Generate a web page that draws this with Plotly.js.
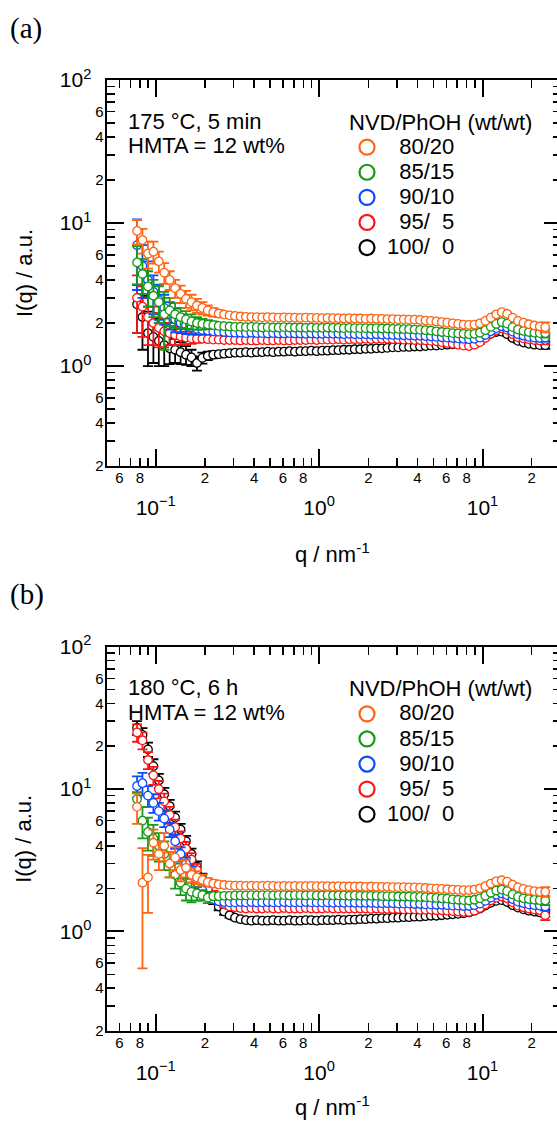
<!DOCTYPE html>
<html><head><meta charset="utf-8">
<script src="https://cdn.plot.ly/plotly-3.0.1.min.js"></script>
<style>html,body{margin:0;padding:0;overflow:hidden;background:#fff;width:557px;height:1124px}#chart{width:565px;height:1124px}</style>
</head><body><div id="chart"></div><script>
// ---- data (q in nm^-1, I(q) in a.u.) ----
const q = [0.0769,0.0830,0.0897,0.0968,0.1045,0.1128,0.1218,0.1315,0.1420,0.1533,
0.1656,0.1788,0.1930,0.2084,0.2250,0.2429,0.2623,0.2832,0.3058,0.3301,
0.3565,0.3849,0.4155,0.4487,0.4844,0.5230,0.5647,0.6097,0.6583,0.7107,
0.7674,0.8285,0.8945,0.9658,1.043,1.126,1.216,1.313,1.417,1.530,
1.652,1.784,1.926,2.079,2.245,2.424,2.617,2.826,3.051,3.294,
3.556,3.840,4.146,4.476,4.833,5.218,5.634,6.083,6.568,7.091,
7.656,8.266,8.925,9.636,10.40,11.23,12.13,13.10,14.14,15.27,
16.48,17.80,19.21,20.75,22.40,24.19];

const seriesNames = ['\u00a0\u00a080/20','\u00a0\u00a085/15','\u00a0\u00a090/10','\u00a0\u00a095/\u00a0\u00a05','100/\u00a0\u00a00'];
const seriesColors = ['#ff6414','#149a14','#0a4bff','#ff1414','#000000'];

// panel (a): 175 °C, 5 min
const a80 = [8.8,7.6,6.1,6.3,5.4,4.5,4.0,3.5,3.2,2.95,
2.8,2.65,2.55,2.45,2.38,2.33,2.29,2.26,2.24,2.22,
2.21,2.2,2.2,2.19,2.2,2.19,2.18,2.19,2.18,2.18,
2.17,2.18,2.17,2.17,2.16,2.17,2.16,2.16,2.15,2.16,
2.15,2.15,2.14,2.15,2.14,2.14,2.13,2.13,2.12,2.12,
2.11,2.11,2.1,2.08,2.07,2.05,2.03,2.01,1.99,1.97,
1.95,1.94,1.95,1.99,2.07,2.18,2.3,2.38,2.32,2.18,
2.07,2.01,1.96,1.92,1.89,1.87];
const a80e = [1.7,1.5,1.3,1.1,0.9,0.75,0.6,0.5,0.45,0.4,
0.35,0.3,0.25,0.2,0.16,0.13,0.1,0.08,0.07,0.06,
0.05,0.05,0.05,0.05,0.05,0.05,0.05,0.05,0.05,0.05,
0.04,0.04,0.04,0.04,0.04,0.04,0.04,0.04,0.04,0.04,
0.04,0.04,0.04,0.04,0.04,0.04,0.04,0.04,0.04,0.04,
0.04,0.04,0.04,0.04,0.04,0.04,0.04,0.04,0.04,0.04,
0.04,0.04,0.04,0.04,0.04,0.04,0.04,0.04,0.04,0.04,
0.04,0.04,0.05,0.06,0.1,0.15];
const a85 = [5.3,4.4,3.6,3.1,2.8,2.3,2.45,2.3,2.2,2.12,
2.05,2.0,1.97,1.95,1.93,1.91,1.9,1.89,1.88,1.88,
1.87,1.88,1.87,1.86,1.87,1.86,1.86,1.87,1.86,1.86,
1.86,1.85,1.86,1.85,1.85,1.86,1.85,1.85,1.84,1.85,
1.84,1.84,1.84,1.83,1.84,1.83,1.83,1.82,1.82,1.81,
1.81,1.8,1.79,1.78,1.77,1.75,1.73,1.72,1.7,1.69,
1.68,1.67,1.68,1.71,1.78,1.88,1.97,2.03,1.98,1.87,
1.8,1.76,1.73,1.71,1.7,1.7];
const a85e = [1.6,1.2,1.0,0.9,0.8,1.0,0.55,0.45,0.35,0.3,
0.25,0.2,0.17,0.14,0.12,0.1,0.08,0.07,0.06,0.05,
0.04,0.04,0.04,0.04,0.04,0.04,0.04,0.04,0.04,0.04,
0.04,0.04,0.04,0.04,0.04,0.04,0.04,0.04,0.04,0.04,
0.04,0.04,0.04,0.04,0.04,0.04,0.04,0.04,0.04,0.04,
0.04,0.04,0.04,0.04,0.04,0.04,0.04,0.04,0.04,0.04,
0.04,0.04,0.04,0.04,0.04,0.04,0.04,0.04,0.04,0.04,
0.04,0.04,0.04,0.05,0.08,0.12];
const a90 = [7.0,5.0,4.0,3.3,2.9,2.55,2.3,2.12,2.0,1.92,
1.86,1.82,1.79,1.77,1.75,1.74,1.73,1.72,1.71,1.71,
1.7,1.71,1.7,1.7,1.69,1.7,1.69,1.69,1.7,1.69,
1.69,1.68,1.69,1.68,1.68,1.69,1.68,1.68,1.67,1.68,
1.67,1.67,1.67,1.66,1.67,1.66,1.66,1.65,1.65,1.64,
1.64,1.63,1.63,1.62,1.61,1.6,1.59,1.58,1.57,1.56,
1.55,1.54,1.55,1.58,1.65,1.75,1.84,1.9,1.86,1.74,
1.67,1.63,1.6,1.58,1.57,1.58];
const a90e = [3.6,2.0,1.4,1.0,0.8,0.6,0.5,0.4,0.3,0.25,
0.2,0.16,0.13,0.1,0.08,0.07,0.06,0.05,0.04,0.04,
0.04,0.04,0.04,0.04,0.04,0.04,0.04,0.04,0.04,0.04,
0.04,0.04,0.04,0.04,0.04,0.04,0.04,0.04,0.04,0.04,
0.04,0.04,0.04,0.04,0.04,0.04,0.04,0.04,0.04,0.04,
0.04,0.04,0.04,0.04,0.04,0.04,0.04,0.04,0.04,0.04,
0.04,0.04,0.04,0.04,0.04,0.04,0.04,0.04,0.04,0.04,
0.04,0.04,0.04,0.05,0.08,0.1];
const a95 = [3.0,2.6,2.2,2.0,1.85,1.75,1.7,1.65,1.61,1.58,
1.56,1.55,1.55,1.54,1.53,1.53,1.52,1.52,1.52,1.51,
1.52,1.51,1.51,1.52,1.51,1.51,1.52,1.51,1.51,1.52,
1.52,1.52,1.53,1.52,1.53,1.53,1.53,1.54,1.53,1.54,
1.54,1.54,1.55,1.54,1.55,1.55,1.55,1.54,1.54,1.53,
1.53,1.52,1.52,1.51,1.5,1.49,1.47,1.45,1.43,1.41,
1.39,1.38,1.41,1.47,1.57,1.68,1.78,1.84,1.79,1.67,
1.59,1.56,1.54,1.52,1.51,1.52];
const a95e = [1.3,1.0,0.8,0.6,0.5,0.4,0.3,0.25,0.2,0.16,
0.13,0.1,0.08,0.07,0.06,0.05,0.04,0.04,0.04,0.04,
0.04,0.04,0.04,0.04,0.04,0.04,0.04,0.04,0.04,0.04,
0.04,0.04,0.04,0.04,0.04,0.04,0.04,0.04,0.04,0.04,
0.04,0.04,0.04,0.04,0.04,0.04,0.04,0.04,0.04,0.04,
0.04,0.04,0.04,0.04,0.04,0.04,0.04,0.04,0.04,0.04,
0.04,0.04,0.04,0.04,0.04,0.04,0.04,0.04,0.04,0.04,
0.04,0.04,0.04,0.05,0.07,0.1];
const a100 = [2.7,2.2,1.7,1.6,1.5,1.4,1.33,1.3,1.25,1.2,
1.15,1.05,1.14,1.18,1.2,1.21,1.22,1.23,1.24,1.24,
1.25,1.24,1.25,1.25,1.26,1.25,1.26,1.26,1.27,1.26,
1.27,1.27,1.28,1.27,1.28,1.28,1.29,1.29,1.3,1.3,
1.31,1.31,1.32,1.32,1.33,1.33,1.34,1.35,1.35,1.36,
1.36,1.37,1.37,1.38,1.39,1.39,1.4,1.41,1.42,1.43,
1.44,1.46,1.5,1.55,1.61,1.68,1.73,1.74,1.67,1.57,
1.5,1.46,1.43,1.41,1.4,1.4];
const a100e = [1.0,0.9,0.7,0.55,0.5,0.4,0.3,0.25,0.22,0.18,
0.15,0.12,0.1,0.08,0.07,0.06,0.05,0.04,0.04,0.04,
0.04,0.04,0.04,0.04,0.04,0.04,0.04,0.04,0.04,0.04,
0.04,0.04,0.04,0.04,0.04,0.04,0.04,0.04,0.04,0.04,
0.04,0.04,0.04,0.04,0.04,0.04,0.04,0.04,0.04,0.04,
0.04,0.04,0.04,0.04,0.04,0.04,0.04,0.04,0.04,0.04,
0.04,0.04,0.04,0.04,0.04,0.04,0.04,0.04,0.04,0.04,
0.04,0.04,0.04,0.05,0.06,0.08];

// panel (b): 180 °C, 6 h
const b80 = [7.5,2.2,2.4,4.2,3.5,4.0,3.0,3.3,2.7,2.8,
2.5,2.4,2.3,2.22,2.17,2.14,2.12,2.11,2.1,2.1,
2.09,2.1,2.09,2.09,2.1,2.09,2.08,2.09,2.08,2.09,
2.08,2.08,2.09,2.08,2.08,2.08,2.07,2.08,2.07,2.07,
2.07,2.07,2.06,2.07,2.06,2.06,2.06,2.05,2.05,2.05,
2.04,2.04,2.03,2.02,2.01,2.0,1.99,1.98,1.97,1.96,
1.95,1.95,1.97,2.01,2.08,2.17,2.25,2.29,2.24,2.13,
2.04,1.99,1.95,1.92,1.9,1.9];
const b80e = [1.8,1.65,1.05,1.0,0.8,0.9,0.6,0.6,0.45,0.4,
0.3,0.25,0.2,0.15,0.12,0.1,0.08,0.07,0.06,0.05,
0.04,0.04,0.04,0.04,0.04,0.04,0.04,0.04,0.04,0.04,
0.04,0.04,0.04,0.04,0.04,0.04,0.04,0.04,0.04,0.04,
0.04,0.04,0.04,0.04,0.04,0.04,0.04,0.04,0.04,0.04,
0.04,0.04,0.04,0.04,0.04,0.04,0.04,0.04,0.04,0.04,
0.04,0.04,0.04,0.04,0.04,0.04,0.04,0.04,0.04,0.04,
0.04,0.04,0.04,0.06,0.1,0.15];
const b85 = [8.5,6.0,5.0,4.5,4.0,3.5,3.0,2.5,2.2,2.0,
1.9,1.85,1.8,1.73,1.77,1.77,1.78,1.78,1.79,1.79,
1.79,1.8,1.79,1.8,1.8,1.79,1.8,1.8,1.79,1.8,
1.8,1.79,1.8,1.79,1.79,1.8,1.79,1.79,1.79,1.78,
1.79,1.78,1.78,1.78,1.78,1.77,1.77,1.77,1.76,1.76,
1.76,1.75,1.75,1.74,1.73,1.72,1.71,1.7,1.68,1.67,
1.66,1.65,1.67,1.71,1.78,1.87,1.94,1.97,1.92,1.82,
1.75,1.71,1.69,1.67,1.66,1.65];
const b85e = [1.0,1.5,1.3,1.1,0.9,0.8,0.6,0.5,0.4,0.35,
0.3,0.2,0.15,0.15,0.1,0.08,0.06,0.05,0.04,0.04,
0.04,0.04,0.04,0.04,0.04,0.04,0.04,0.04,0.04,0.04,
0.04,0.04,0.04,0.04,0.04,0.04,0.04,0.04,0.04,0.04,
0.04,0.04,0.04,0.04,0.04,0.04,0.04,0.04,0.04,0.04,
0.04,0.04,0.04,0.04,0.04,0.04,0.04,0.04,0.04,0.04,
0.04,0.04,0.04,0.04,0.04,0.04,0.04,0.04,0.04,0.04,
0.04,0.04,0.04,0.06,0.09,0.12];
const b90 = [10.5,11.0,9.0,8.0,7.0,6.2,5.2,4.3,3.5,3.0,
2.6,2.2,1.95,1.78,1.68,1.63,1.61,1.6,1.6,1.61,
1.6,1.61,1.6,1.6,1.61,1.6,1.6,1.61,1.6,1.6,
1.6,1.61,1.6,1.6,1.6,1.6,1.59,1.6,1.59,1.6,
1.59,1.59,1.59,1.59,1.58,1.58,1.58,1.58,1.57,1.57,
1.57,1.56,1.56,1.55,1.55,1.54,1.54,1.53,1.52,1.52,
1.51,1.51,1.53,1.57,1.64,1.73,1.81,1.85,1.8,1.69,
1.62,1.58,1.55,1.53,1.52,1.5];
const b90e = [1.8,2.0,1.5,1.2,1.0,0.8,0.6,0.5,0.4,0.3,
0.25,0.2,0.15,0.12,0.1,0.08,0.06,0.04,0.04,0.04,
0.04,0.04,0.04,0.04,0.04,0.04,0.04,0.04,0.04,0.04,
0.04,0.04,0.04,0.04,0.04,0.04,0.04,0.04,0.04,0.04,
0.04,0.04,0.04,0.04,0.04,0.04,0.04,0.04,0.04,0.04,
0.04,0.04,0.04,0.04,0.04,0.04,0.04,0.04,0.04,0.04,
0.04,0.04,0.04,0.04,0.04,0.04,0.04,0.04,0.04,0.04,
0.04,0.04,0.04,0.05,0.07,0.1];
const b95 = [25,22,16,12.5,10,8.2,6.6,5.4,4.5,3.8,
3.2,2.7,2.3,2.0,1.8,1.65,1.56,1.5,1.48,1.46,
1.45,1.46,1.45,1.45,1.46,1.45,1.45,1.46,1.45,1.45,
1.45,1.46,1.45,1.45,1.45,1.46,1.45,1.45,1.45,1.45,
1.45,1.45,1.45,1.44,1.45,1.44,1.44,1.44,1.44,1.43,
1.43,1.43,1.42,1.42,1.42,1.41,1.41,1.4,1.39,1.38,
1.37,1.37,1.4,1.46,1.55,1.65,1.73,1.76,1.71,1.6,
1.52,1.48,1.45,1.43,1.41,1.3];
const b95e = [3.5,3.0,2.2,1.8,1.4,1.1,0.9,0.7,0.55,0.45,
0.35,0.28,0.22,0.17,0.13,0.1,0.08,0.06,0.05,0.04,
0.04,0.04,0.04,0.04,0.04,0.04,0.04,0.04,0.04,0.04,
0.04,0.04,0.04,0.04,0.04,0.04,0.04,0.04,0.04,0.04,
0.04,0.04,0.04,0.04,0.04,0.04,0.04,0.04,0.04,0.04,
0.04,0.04,0.04,0.04,0.04,0.04,0.04,0.04,0.04,0.04,
0.04,0.04,0.04,0.04,0.04,0.04,0.04,0.04,0.04,0.04,
0.04,0.04,0.04,0.05,0.06,0.1];
const b100 = [27,24,19,14.5,11.5,9.2,7.6,6.3,5.2,4.3,
3.5,2.85,2.35,1.95,1.68,1.5,1.38,1.3,1.25,1.22,
1.2,1.19,1.2,1.19,1.19,1.2,1.19,1.19,1.2,1.19,
1.19,1.2,1.2,1.19,1.2,1.2,1.2,1.21,1.2,1.21,
1.21,1.22,1.22,1.23,1.23,1.24,1.24,1.25,1.25,1.26,
1.26,1.27,1.27,1.28,1.29,1.29,1.3,1.31,1.32,1.33,
1.34,1.36,1.4,1.45,1.52,1.59,1.64,1.66,1.61,1.53,
1.47,1.43,1.4,1.38,1.36,1.35];
const b100e = [3.0,2.8,2.2,1.7,1.3,1.0,0.8,0.65,0.5,0.4,
0.32,0.25,0.2,0.15,0.12,0.09,0.07,0.05,0.04,0.04,
0.04,0.04,0.04,0.04,0.04,0.04,0.04,0.04,0.04,0.04,
0.04,0.04,0.04,0.04,0.04,0.04,0.04,0.04,0.04,0.04,
0.04,0.04,0.04,0.04,0.04,0.04,0.04,0.04,0.04,0.04,
0.04,0.04,0.04,0.04,0.04,0.04,0.04,0.04,0.04,0.04,
0.04,0.04,0.04,0.04,0.04,0.04,0.04,0.04,0.04,0.04,
0.04,0.04,0.04,0.05,0.06,0.08];

// tick labels
const xMajorVals = [0.1, 1, 10];
const xMajorText = ['10<sup>\u22121</sup>', '10<sup>0</sup>', '10<sup>1</sup>'];
const xMinorVals = [0.06,0.07,0.08,0.09,0.2,0.3,0.4,0.5,0.6,0.7,0.8,0.9,2,3,4,5,6,7,8,9,20];
const xMinorText = ['6','','8','','2','','4','','6','','8','','2','','4','','6','','8','','2'];
const yMajorVals = [1, 10, 100];
const yMajorText = ['10<sup>0</sup>', '10<sup>1</sup>', '10<sup>2</sup>'];
const yMinorVals = [0.2,0.3,0.4,0.5,0.6,0.7,0.8,0.9,2,3,4,5,6,7,8,9,20,30,40,50,60,70,80,90];
const yMinorText = ['2','','4','','6','','','','2','','4','','6','','','','2','','4','','6','','',''];

const panelA = {label:'(a)', line1:'175 \u00b0C, 5 min', line2:'HMTA = 12 wt%', ys:[a80,a85,a90,a95,a100], es:[a80e,a85e,a90e,a95e,a100e]};
const panelB = {label:'(b)', line1:'180 \u00b0C, 6 h', line2:'HMTA = 12 wt%', ys:[b80,b85,b90,b95,b100], es:[b80e,b85e,b90e,b95e,b100e]};

// ---- layout helpers (pixels -> paper) ----
const W = 565, H = 1124;
const px = v => v / W, py = v => 1 - v / H;
const FONT = 'Liberation Sans, Arial, Helvetica, sans-serif';
const XR = [Math.log10(0.05), Math.log10(30)];
const YR = [Math.log10(0.2), 2];
const XDOM = [px(106.5), px(560.5)];
const panels = [
  {p: panelA, top: 80, bottom: 466, xa:'x', ya:'y', xo:'x3', yo:'y3', lg:'legend', dy: 0, titleY: 553},
  {p: panelB, top: 646.7, bottom: 1031, xa:'x2', ya:'y2', xo:'x4', yo:'y4', lg:'legend2', dy: 566.7, titleY: 1106}
];

const data = [];
const layout = {width: W, height: H, margin:{l:0,r:0,t:0,b:0}, paper_bgcolor:'white', plot_bgcolor:'rgba(0,0,0,0)',
  font:{family: FONT, color:'black'}, annotations: [], showlegend: true};

function axName(id){ return id.replace('x','xaxis').replace('y','yaxis'); }
const big = s => '<span style="font-size:22px">' + s + '</span>';

panels.forEach(P => {
  const ydom = [py(P.bottom), py(P.top)];
  // data traces (drawn black first, orange on top)
  for (let k = 4; k >= 0; k--) {
    data.push({x: q, y: P.p.ys[k], type:'scatter', mode:'markers', xaxis: P.xa, yaxis: P.ya, showlegend:false, hoverinfo:'skip',
      marker:{symbol:'circle', size:8.5, color:'white', line:{color: seriesColors[k], width:1.3}},
      error_y:{type:'data', array: P.p.es[k], visible:true, color: seriesColors[k], thickness:1.8, width:5}});
  }
  // empty trace so the minor-tick overlay axes are drawn
  data.push({x:[null], y:[null], type:'scatter', mode:'markers', xaxis: P.xo, yaxis: P.yo, showlegend:false, hoverinfo:'skip'});
  // legend entries
  for (let k = 0; k < 5; k++) {
    data.push({x:[null], y:[null], type:'scatter', mode:'markers', name: big(seriesNames[k]), legend: P.lg, xaxis: P.xa, yaxis: P.ya,
      marker:{symbol:'circle', size:15, color:'white', line:{color: seriesColors[k], width:2.2}}});
  }
  const common = {showgrid:false, zeroline:false, fixedrange:true, tickmode:'array', tickcolor:'black', ticks:'inside', mirror:'ticks'};
  layout[axName(P.xa)] = Object.assign({}, common, {type:'log', range: XR, domain: XDOM, anchor: P.ya,
    showline:true, linecolor:'black', linewidth:2, ticklen:17, tickwidth:2,
    tickvals: xMajorVals, ticktext: xMajorText, tickfont:{family:FONT, size:21, color:'black'}, ticklabelstandoff: 22});
  layout[axName(P.ya)] = Object.assign({}, common, {type:'log', range: YR, domain: ydom, anchor: P.xa,
    showline:true, linecolor:'black', linewidth:2, ticklen:17, tickwidth:2,
    tickvals: yMajorVals, ticktext: yMajorText, tickfont:{family:FONT, size:21, color:'black'}, ticklabelstandoff: 9});
  layout[axName(P.xo)] = Object.assign({}, common, {type:'log', range: XR, overlaying: P.xa, anchor: P.yo, showline:false,
    ticklen:8, tickwidth:1.5, tickvals: xMinorVals, ticktext: xMinorText, tickfont:{family:FONT, size:15, color:'black'}, ticklabelstandoff: 1});
  layout[axName(P.yo)] = Object.assign({}, common, {type:'log', range: YR, overlaying: P.ya, anchor: P.xo, showline:false,
    ticklen:8, tickwidth:1.5, tickvals: yMinorVals, ticktext: yMinorText, tickfont:{family:FONT, size:15, color:'black'}, ticklabelstandoff: 2});

  layout[P.lg] = {x: px(347), xanchor:'left', y: py(101 + P.dy), yanchor:'top', bgcolor:'rgba(0,0,0,0)', borderwidth:0,
    font:{family:FONT, size:17, color:'black'}, title:{text:'NVD/PhOH (wt/wt)', font:{family:FONT, size:22, color:'black'}},
    itemclick:false, itemdoubleclick:false, traceorder:'normal'};

  const ann = layout.annotations;
  ann.push({text: P.p.label, xref:'paper', yref:'paper', x: px(8), y: py(28 + P.dy), xanchor:'left', yanchor:'middle', showarrow:false,
    font:{family:'Liberation Serif, Times New Roman, serif', size:29, color:'black'}});
  ann.push({text: P.p.line1, xref:'paper', yref:'paper', x: px(126), y: py(121 + P.dy), xanchor:'left', yanchor:'middle', showarrow:false,
    font:{family:FONT, size:22, color:'black'}});
  ann.push({text: P.p.line2, xref:'paper', yref:'paper', x: px(126), y: py(146 + P.dy), xanchor:'left', yanchor:'middle', showarrow:false,
    font:{family:FONT, size:22, color:'black'}});
  ann.push({text: 'I(q) / a.u.', xref:'paper', yref:'paper', x: px(24), y: py((P.top + P.bottom) / 2), xanchor:'center', yanchor:'middle',
    textangle:-90, showarrow:false, font:{family:FONT, size:22, color:'black'}});
  ann.push({text: 'q / nm<sup>-1</sup>', xref:'paper', yref:'paper', x: px(332), y: py(P.titleY), xanchor:'center', yanchor:'middle',
    showarrow:false, font:{family:FONT, size:22, color:'black'}});
});

Plotly.newPlot('chart', data, layout, {displayModeBar:false, staticPlot:true});
</script></body></html>
